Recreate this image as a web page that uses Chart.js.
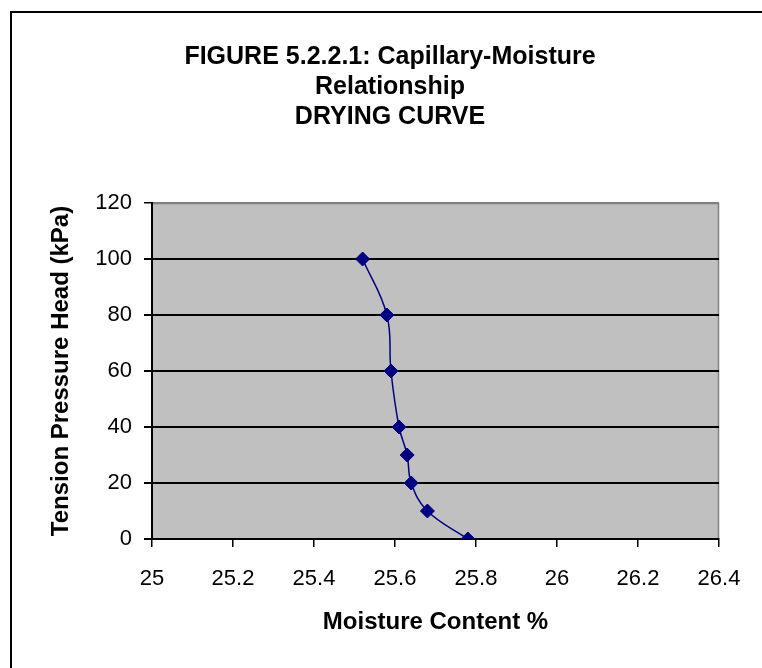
<!DOCTYPE html>
<html>
<head>
<meta charset="utf-8">
<script src="https://cdn.jsdelivr.net/npm/chart.js@4/dist/chart.umd.min.js"></script>
<style>
  html, body { margin: 0; padding: 0; background: #fff; overflow: hidden; }
  #frame { position: absolute; left: 10px; top: 11px; width: 800px; height: 700px;
           border-left: 2px solid #000; border-top: 2px solid #000; }
  #wrap { position: absolute; left: 0; top: 0; width: 762px; height: 668px; }
</style>
</head>
<body>
<div id="frame"></div>
<div id="wrap"><canvas id="c" width="762" height="668"></canvas></div>
<script>
// Data
const titleLines = ['FIGURE 5.2.2.1: Capillary-Moisture', 'Relationship', 'DRYING CURVE'];
const xAxisTitle = 'Moisture Content %';
const yAxisTitle = 'Tension Pressure Head (kPa)';
const moisture = [25.52, 25.58, 25.59, 25.61, 25.63, 25.64, 25.68, 25.78];
const tension  = [100, 80, 60, 40, 30, 20, 10, 0];
const xTicks = [25, 25.2, 25.4, 25.6, 25.8, 26, 26.2, 26.4];
const xTickLabels = ['25', '25.2', '25.4', '25.6', '25.8', '26', '26.2', '26.4'];
const yTicks = [0, 20, 40, 60, 80, 100, 120];
const yTickLabels = ['0', '20', '40', '60', '80', '100', '120'];

const FONT = "'Liberation Sans', Arial, sans-serif";

const plotBg = {
  id: 'plotBg',
  beforeDraw(chart) {
    const {ctx, chartArea: a} = chart;
    ctx.save();
    ctx.fillStyle = '#C0C0C0';
    ctx.fillRect(a.left, a.top, a.right - a.left, a.bottom - a.top);
    ctx.strokeStyle = '#808080';
    ctx.lineWidth = 1.5;
    ctx.beginPath();
    ctx.moveTo(a.left, a.top + 0.5);
    ctx.lineTo(a.right - 0.5, a.top + 0.5);
    ctx.lineTo(a.right - 0.5, a.bottom);
    ctx.stroke();
    ctx.restore();
  },
  afterLayout(chart) {
    // center the title over the framed figure rather than the canvas minus padding
    const t = chart.titleBlock;
    if (t) { t.left = 10; t.right = 770; }
  }
};

new Chart(document.getElementById('c'), {
  type: 'scatter',
  data: {
    datasets: [{
      data: moisture.map((m, i) => ({x: m, y: tension[i]})),
      showLine: true,
      borderColor: '#000080',
      backgroundColor: '#000080',
      borderWidth: 1.5,
      tension: 0.4,
      pointStyle: 'rectRot',
      pointRadius: 7,
      pointHoverRadius: 7,
      pointBorderWidth: 1
    }]
  },
  options: {
    responsive: false,
    animation: false,
    events: [],
    layout: { padding: { top: 0, left: 0, right: 43, bottom: 0 } },
    plugins: {
      legend: { display: false },
      tooltip: { enabled: false },
      title: {
        display: true,
        text: titleLines,
        color: '#000',
        font: { family: FONT, size: 25, weight: 'bold', lineHeight: 1.2 },
        padding: { top: 42, bottom: 71 }
      }
    },
    scales: {
      x: {
        type: 'linear',
        min: 25, max: 26.4,
        afterBuildTicks: s => { s.ticks = xTicks.map(v => ({value: v})); },
        afterFit: s => { s.height = 129; },
        ticks: {
          color: '#000',
          font: { family: FONT, size: 22 },
          padding: 19,
          maxRotation: 0,
          callback: (v) => { const i = xTicks.findIndex(t => Math.abs(t - v) < 1e-6); return i >= 0 ? xTickLabels[i] : ''; }
        },
        grid: { drawOnChartArea: false, drawTicks: true, tickLength: 8, color: '#000', lineWidth: 1.5 },
        border: { display: true, color: '#000', width: 2 },
        title: {
          display: true, text: xAxisTitle, color: '#000',
          font: { family: FONT, size: 24, weight: 'bold', lineHeight: 1.2 },
          padding: { top: 0, bottom: 31 }
        }
      },
      y: {
        type: 'linear',
        min: 0, max: 120,
        afterBuildTicks: s => { s.ticks = yTicks.map(v => ({value: v})); },
        afterFit: s => { s.width = 152; },
        ticks: {
          color: '#000',
          font: { family: FONT, size: 22 },
          padding: 12,
          callback: (v) => { const i = yTicks.indexOf(v); return i >= 0 ? yTickLabels[i] : ''; }
        },
        grid: {
          drawTicks: true, tickLength: 8,
          color: ctx => (ctx.tick && ctx.tick.value === 120) ? '#808080' : '#000',
          tickColor: '#000',
          lineWidth: ctx => (ctx.tick && ctx.tick.value === 120) ? 1.5 : 2
        },
        border: { display: true, color: '#000', width: 2 },
        title: {
          display: true, text: yAxisTitle, color: '#000',
          font: { family: FONT, size: 24, weight: 'bold', lineHeight: 1.2 },
          padding: { top: 47, bottom: 0 }
        }
      }
    }
  },
  plugins: [plotBg]
});
</script>
</body>
</html>
